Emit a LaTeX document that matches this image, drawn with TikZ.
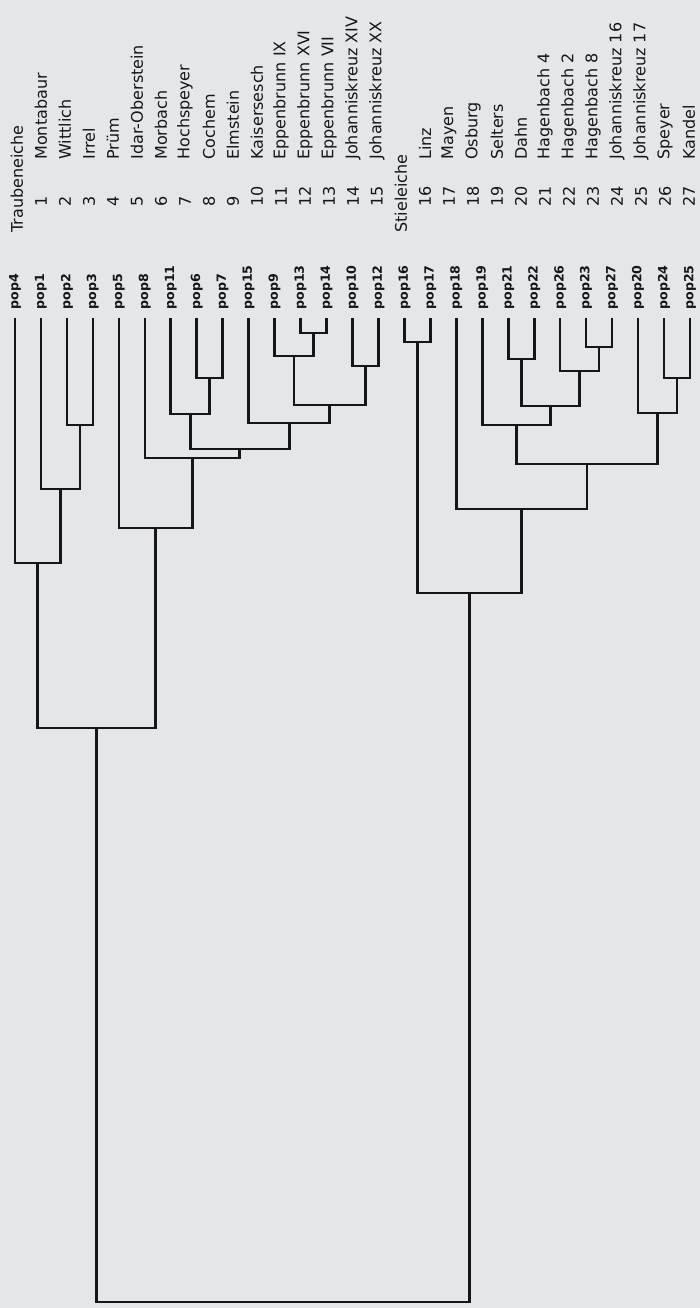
\documentclass[tikz,border=0pt]{standalone}
\usepackage{fontspec}
\setmainfont{DejaVu Sans}
\usetikzlibrary{calc}
\definecolor{paper}{RGB}{228,230,232}
\definecolor{ink}{RGB}{22,22,24}
\newcommand{\joinpair}[4]{%
  \coordinate (x#1) at ($(#2)!0.5!(#3)$);
  \coordinate (h#1) at (0,#4);
  \coordinate (#1) at (x#1 |- h#1);
  \draw[branch] (#2) |- (#1) -| (#3);}
\begin{document}
\begin{tikzpicture}[x=0.5pt,y=-0.5pt,
  branch/.style={draw=ink,line width=1.3pt},
  poplabel/.style={rotate=90,anchor=west,inner xsep=4pt,inner ysep=0pt,text=ink,
    font=\bfseries\fontsize{6.3}{7}\selectfont},
  rowlabel/.style={rotate=90,anchor=west,inner sep=0pt,text=ink,
    font=\fontsize{8}{9}\selectfont}]
  \fill[paper] (0,0) rectangle (700,1308);
  \useasboundingbox (0,0) rectangle (700,1308);
  \node[rowlabel] (traub) at (17,233) {Traubeneiche};
  \node[rowlabel] (stiel) at (401,233) {Stieleiche};
  \foreach \k/\nm in {1/Montabaur,2/Wittlich,3/Irrel,4/Prüm,5/Idar-Oberstein,
      6/Morbach,7/Hochspeyer,8/Cochem,9/Elmstein,10/Kaisersesch,11/Eppenbrunn IX,
      12/Eppenbrunn XVI,13/Eppenbrunn VII,14/Johanniskreuz XIV,15/Johanniskreuz XX}{
    \node[rowlabel] (num\k) at ({17+24*\k},207) {\k};
    \node[rowlabel] (name\k) at ({17+24*\k},160) {\nm};
  }
  \foreach \k/\nm in {16/Linz,17/Mayen,18/Osburg,19/Selters,20/Dahn,21/Hagenbach 4,
      22/Hagenbach 2,23/Hagenbach 8,24/Johanniskreuz 16,25/Johanniskreuz 17,
      26/Speyer,27/Kandel}{
    \node[rowlabel] (num\k) at ({41+24*\k},207) {\k};
    \node[rowlabel] (name\k) at ({41+24*\k},160) {\nm};
  }
  \foreach \nm [count=\i from 0] in {4,1,2,3,5,8,11,6,7,15,9,13,14,10,12,
      16,17,18,19,21,22,26,23,27,20,24,25}
    \node[poplabel] (n\nm) at ({15+25.96*\i},318) {pop\nm};
  \joinpair{a23}{n2.west}{n3.west}{425}
  \joinpair{a123}{n1.west}{a23}{489}
  \joinpair{aA}{n4.west}{a123}{563}
  \joinpair{b67}{n6.west}{n7.west}{378}
  \joinpair{b1167}{n11.west}{b67}{414}
  \joinpair{b1314}{n13.west}{n14.west}{333}
  \joinpair{b9}{n9.west}{b1314}{356}
  \joinpair{b1012}{n10.west}{n12.west}{366}
  \joinpair{b9to12}{b9}{b1012}{405}
  \joinpair{b15}{n15.west}{b9to12}{423}
  \joinpair{b11to15}{b1167}{b15}{449}
  \joinpair{b8}{n8.west}{b11to15}{458}
  \joinpair{bB}{n5.west}{b8}{528}
  \joinpair{ab}{aA}{bB}{728}
  \joinpair{c1617}{n16.west}{n17.west}{342}
  \joinpair{c2122}{n21.west}{n22.west}{359}
  \joinpair{c2327}{n23.west}{n27.west}{347}
  \joinpair{c26}{n26.west}{c2327}{371}
  \joinpair{c21to27}{c2122}{c26}{406}
  \joinpair{c19}{n19.west}{c21to27}{425}
  \joinpair{c2425}{n24.west}{n25.west}{378}
  \joinpair{c20}{n20.west}{c2425}{413}
  \joinpair{c19to25}{c19}{c20}{464}
  \joinpair{c18}{n18.west}{c19to25}{509}
  \joinpair{cC}{c1617}{c18}{593}
  \joinpair{root}{ab}{cC}{1302}
\end{tikzpicture}
\end{document}
